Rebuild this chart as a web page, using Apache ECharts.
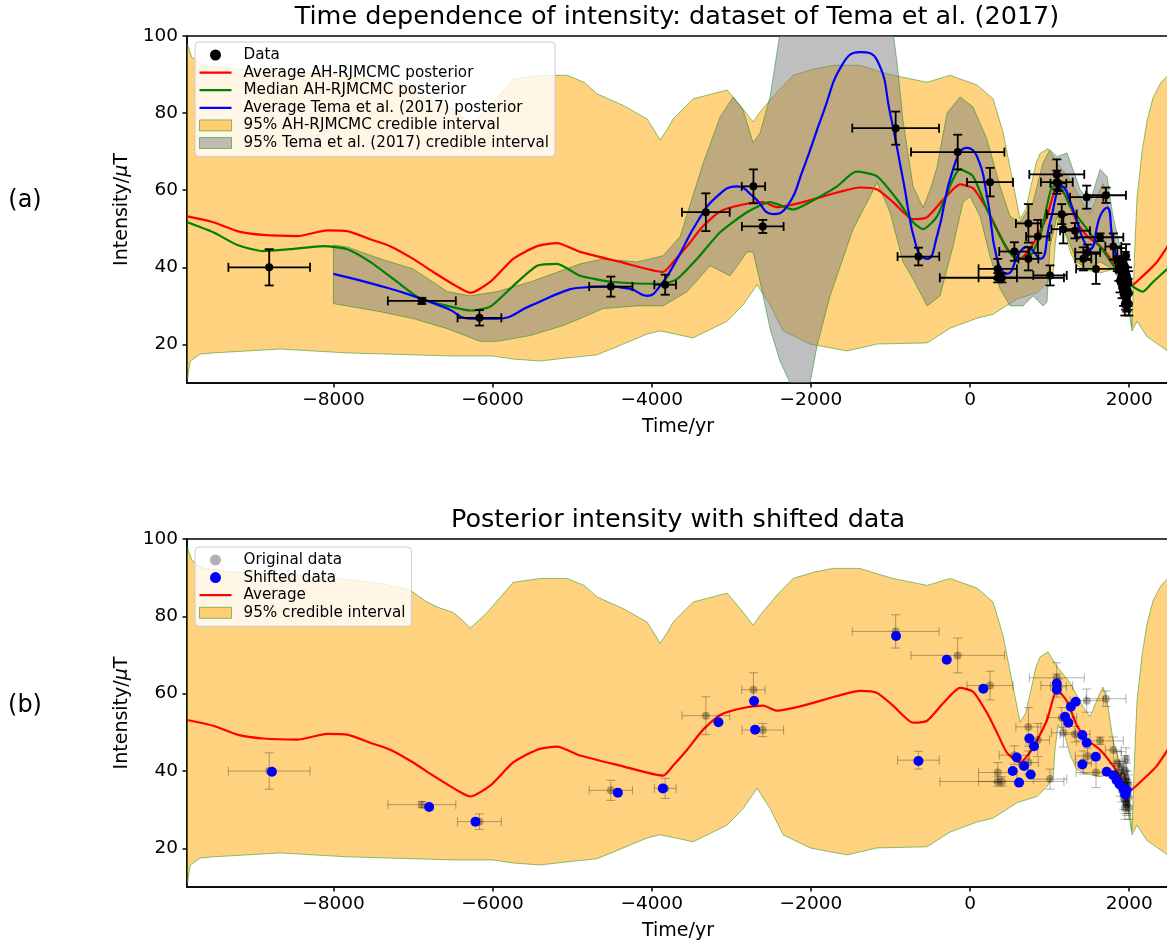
<!DOCTYPE html>
<html>
<head>
<meta charset="utf-8">
<title>Intensity posterior</title>
<script src="https://cdn.jsdelivr.net/npm/echarts@6/dist/echarts.min.js"></script>
<style>
  html, body { margin: 0; padding: 0; background: #fff; }
  #chart { width: 1167px; height: 940px; }
</style>
</head>
<body>
<div id="chart"></div>
<script>
// ---- data ----
const xTicks = [-8000, -6000, -4000, -2000, 0, 2000];
const yTicks = [20, 40, 60, 80, 100];

// 95% AH-RJMCMC credible interval (same in both panels)
const orangeUpYears = [-9838, -9780, -9650, -9300, -8800, -8000, -7400, -7035, -6850, -6696,
  -6495, -6380, -6281, -6170, -6068, -5900, -5741, -5402, -5063, -4850,
  -4686, -4359, -4058, -3982, -3894, -3800, -3731, -3480, -3053, -2889,
  -2726, -2638, -2425, -2224, -1950, -1721, -1382, -1168, -967, -540,
  -251, 88, 289, 415, 520, 628, 700, 754, 830, 879,
  980, 1093, 1256, 1420, 1508, 1633, 1671, 1721, 1796, 1884,
  1972, 2035, 2070, 2098, 2161, 2224, 2299, 2400, 2500];
const orangeUpVals = [98, 94.5, 92.5, 91.5, 91, 90, 88.5, 86.8, 84, 82.4,
  81, 79, 77, 79, 81, 85, 88.8, 89.8, 89.8, 88,
  85, 82, 78.5, 76, 73, 76, 78.5, 83.7, 86, 82,
  77.7, 80.3, 85.5, 89.8, 91.5, 92.4, 92.4, 91, 89.8, 88,
  89.8, 87.3, 83.7, 75, 64, 52.6, 55, 60, 67, 69.5,
  70.8, 67, 62.8, 56.6, 54, 60.2, 61.7, 58.4, 48, 42,
  37.7, 24.5, 45, 58, 70, 78, 84, 88, 90];
const orangeLoYears = [-9838, -9820, -9799, -9673, -9510, -8668, -7827, -6500, -6000, -5741,
  -5402, -5063, -4690, -4485, -4058, -3894, -3480, -3053, -2851, -2676,
  -2513, -2349, -2010, -1545, -1168, -540, -251, 88, 289, 590,
  716, 842, 967, 1043, 1068, 1106, 1180, 1260, 1340, 1420,
  1633, 1796, 1847, 1972, 2035, 2098, 2224, 2400, 2500];
const orangeLoVals = [10.3, 13, 15.7, 17.5, 17.8, 18.8, 17.8, 17, 17, 16.2,
  15.7, 16.5, 17.3, 19, 22.7, 23.5, 21.7, 26, 30.3, 35.5,
  30.3, 23.5, 20.1, 18.3, 20.1, 20.4, 24.2, 26.8, 27.8, 31.8,
  32.6, 33.4, 36, 38.5, 45.5, 52, 50, 44, 40.5, 39.5,
  38.5, 39.5, 37.7, 32, 23.5, 26, 22, 19.5, 18];

// 95% Tema et al. (2017) credible interval
const temaUpYears = [-8000, -7827, -7411, -6998, -6570, -6281, -5942, -5528, -4900, -4611,
  -4185, -3857, -3643, -3354, -3141, -2977, -2852, -2726, -2638, -2513,
  -2387, -2200, -1800, -1400, -1100, -967, -917, -842, -716, -590,
  -503, -415, -289, -126, 38, 214, 377, 503, 628, 791,
  917, 1005, 1093, 1219, 1382, 1508, 1633, 1721, 1796, 1884,
  1972];
const temaUpVals = [45.8, 45.3, 42.2, 39.6, 33.7, 32.6, 33.7, 36.2, 40.9, 42.2,
  41.4, 43, 48, 67, 79, 84.2, 80.8, 72.3, 74.9, 84.2,
  101, 112, 122, 125, 112, 101, 93, 78, 61, 55.5,
  60, 66, 80, 84.2, 81.6, 73.1, 61, 53.2, 51.7, 56.9,
  67.2, 70.5, 68.7, 69.7, 60.2, 56.9, 65.4, 63.6, 53.2, 45.5,
  39.6];
const temaLoYears = [-8000, -7411, -6998, -6570, -6155, -5942, -5528, -5113, -4900, -4611,
  -4185, -3857, -3555, -3266, -3015, -2802, -2726, -2638, -2513, -2387,
  -2261, -2135, -2010, -1922, -1759, -1470, -1256, -1168, -1005, -842,
  -716, -540, -377, -214, -88, 0, 126, 251, 377, 503,
  666, 791, 917, 967, 1005, 1093, 1219, 1344, 1470, 1633,
  1796, 1972];
const temaLoVals = [30.6, 28.5, 26.7, 24.1, 20.8, 20.8, 22.3, 24.9, 26.7, 29.3,
  30, 30, 33.7, 40.4, 37.8, 44, 44, 36.2, 24.1, 15.6,
  10, 5, 10, 19.7, 32.6, 49.9, 58.4, 62, 54.3, 41.4,
  37, 30, 32.6, 45.5, 56.9, 58.4, 53.2, 42.9, 34.4, 30,
  30, 32.6, 30, 31, 45.5, 53.2, 48.1, 41.4, 39.6, 41.4,
  39.6, 38.8];

// Average AH-RJMCMC posterior
const avgYears = [-9838, -9510, -9208, -8882, -8455, -8078, -7827, -7538, -7286, -6998,
  -6746, -6445, -6281, -6030, -5741, -5440, -5189, -4900, -4397, -3857,
  -3731, -3555, -3354, -3141, -2852, -2601, -2425, -2098, -1671, -1382,
  -1168, -967, -716, -540, -339, -126, 38, 214, 339, 465,
  628, 791, 967, 1093, 1219, 1344, 1470, 1633, 1796, 2010,
  2173, 2349, 2500];
const avgVals = [53.2, 51.7, 49.4, 48.4, 48.1, 49.6, 49.4, 47.3, 45.5, 42.2,
  38.8, 35, 33.4, 36.2, 42.2, 45.5, 46.3, 44, 41.4, 38.8,
  41.4, 45.5, 50.7, 54.5, 56.3, 56.9, 55.6, 56.9, 59.4, 60.7,
  60.2, 56.9, 52.5, 53, 57.5, 61.5, 60.5, 55, 49.9, 44.7,
  42.2, 46, 53.2, 61, 58, 51.7, 48.1, 45.5, 41.4, 35,
  37.8, 41.4, 46];

// Median AH-RJMCMC posterior
const medYears = [-9838, -9510, -9208, -8882, -8543, -8128, -7827, -7538, -7198, -6909,
  -6570, -6281, -6030, -5741, -5440, -5189, -4900, -4485, -3857, -3680,
  -3430, -3141, -2802, -2513, -2224, -1884, -1671, -1432, -1168, -917,
  -716, -590, -415, -126, 38, 214, 377, 540, 716, 880,
  1043, 1131, 1256, 1470, 1721, 1922, 2173, 2299, 2500];
const medVals = [51.7, 49.1, 45.8, 44.2, 44.7, 45.5, 44.7, 41.4, 36.2, 31.9,
  30, 28.8, 29.8, 35.2, 40.4, 40.9, 37.8, 36.2, 35.7, 37,
  42.2, 49.1, 54.3, 56.9, 55, 58.4, 61, 64.8, 63.6, 57.6,
  51.7, 49.9, 53.2, 65.4, 63.6, 55, 48.1, 42.9, 42.2, 48.1,
  61, 61, 55.8, 49.9, 42.9, 37, 33.7, 36.2, 40];

// Average Tema et al. (2017) posterior
const temaYears = [-8000, -7411, -6998, -6570, -6281, -5942, -5528, -5113, -4900, -4611,
  -4271, -4058, -3894, -3680, -3430, -3179, -2927, -2726, -2475, -2299,
  -2098, -1847, -1596, -1382, -1168, -1005, -842, -666, -540, -415,
  -214, -38, 88, 214, 339, 465, 628, 716, 880, 1005,
  1156, 1294, 1420, 1508, 1633, 1721, 1796, 1884, 1947];
const temaVals = [38.3, 35.2, 32.6, 29.3, 26.7, 26.7, 30, 33.7, 34.7, 35,
  34.4, 32.6, 35.2, 42.2, 51.7, 58.4, 61, 58.4, 53.8, 55.8,
  65.4, 80, 92.9, 95.8, 93.7, 80, 62.8, 44.7, 42.2, 48.1,
  65.4, 71, 68.7, 58.4, 42.2, 38.3, 44, 45.3, 42.2, 51.7,
  61, 55, 47.3, 44.7, 53.2, 55.5, 46.5, 39.6, 37.8];

// Tema et al. (2017) dataset: age, intensity, age error, intensity error
const dataYears = [-8807, -6889, -6165, -4514, -3831, -3320, -2722, -2605, -935, -155,
  -649, 251, 348, 348, 400, 1005, 733, 851, 557, 733,
  1090, 1090, 1110, 1152, 1172, 1319, 1466, 1708, 1633, 1478,
  1423, 1583, 1800, 1850, 1870, 1885, 1900, 1910, 1920, 1930,
  1940, 1945, 1950, 1955, 1960, 1960, 1965, 1970, 1975, 1980,
  1985, 1990, 1995];
const dataVals = [40, 31.3, 26.9, 35, 35.5, 54.3, 61, 50.6, 76.1, 69.9,
  42.8, 62.1, 39.6, 37.3, 37.3, 37.9, 51.4, 48, 44.1, 42.2,
  64.1, 62.1, 61.8, 53.8, 49.9, 49.5, 58.2, 58.7, 47.8, 43.9,
  42.2, 39.6, 45.4, 42, 39.5, 36.5, 41, 35, 38.5, 33,
  36.5, 30.5, 40, 32, 35, 43, 38, 31.5, 34, 37,
  33, 36, 30.5];
const dataXErr = [513, 427, 275, 272, 136, 300, 147, 262, 545, 587,
  262, 289, 241, 241, 780, 210, 157, 147, 190, 125,
  345, 200, 100, 188, 150, 188, 209, 251, 293, 157,
  100, 250, 100, 30, 30, 25, 30, 20, 25, 20,
  20, 20, 25, 20, 20, 20, 20, 20, 15, 15,
  15, 10, 10];
const dataYErr = [4.7, 0.8, 2, 2.6, 2.6, 4.9, 4.4, 1.7, 4.3, 4.5,
  2.3, 3.7, 2.6, 1.2, 1.2, 2.6, 5, 4.3, 2.4, 3,
  3.9, 3, 2, 2.6, 3.7, 2, 3, 2, 1, 2,
  3, 3.9, 3.4, 3, 3, 3, 4, 3, 4, 3,
  3, 3, 4, 3, 3, 3, 4, 3, 3, 3,
  4, 3, 3];

// shifted data (panel b)
const shiftYears = [-8773, -6797, -6215, -4426, -3861, -3162, -2714, -2701, -930, -293,
  -649, 167, 587, 745, 804, 536, 616, 678, 762, 1090,
  1090, 1194, 1236, 1266, 1328, 1411, 1466, 1579, 1411, 1717,
  1800, 1842, 1880, 1926, 1950, 1968];
const shiftVals = [39.8, 30.7, 26.9, 34.4, 35.5, 52.6, 58.1, 50.7, 74.9, 68.8,
  42.6, 61.3, 43.5, 48.4, 46.4, 40, 37, 41.3, 39.1, 62.6,
  61.1, 54, 52.5, 56.6, 57.9, 49.3, 47.3, 43.7, 41.7, 39.8,
  38.9, 37.6, 36.5, 35.5, 34, 35];

// ---- styling ----
const FONT = 'DejaVu Sans';
const ORANGE = 'rgba(255,165,0,0.5)';
const GREY = 'rgba(128,128,128,0.5)';
const EDGE = 'rgba(0,128,0,0.45)';
const LINE_ICON = 'path://M0,0H100V7H0Z';
const CAP = 4.5;
const XMIN = -9840, XMAX = 2500;

function zip(xs, ys) {
  return xs.map(function (x, i) { return [x, ys[i]]; });
}

function minusFmt(v) {
  return v < 0 ? '\u2212' + (-v) : String(v);
}

// filled band between an upper and a lower curve, drawn as one polygon
function bandSeries(name, idx, upX, upY, loX, loY, fill, z) {
  const pts = zip(upX, upY).concat(zip(loX, loY).reverse());
  return {
    name: name,
    type: 'custom',
    xAxisIndex: idx,
    yAxisIndex: idx,
    silent: true,
    z: z,
    encode: { x: 0, y: 1 },
    data: pts,
    itemStyle: { color: fill },
    renderItem: function (params, api) {
      if (params.dataIndex !== 0) return null;
      const cs = params.coordSys;
      return {
        type: 'polygon',
        shape: { points: pts.map(function (p) { return api.coord(p); }) },
        style: { fill: fill, stroke: EDGE, lineWidth: 1 },
        clipPath: { type: 'rect', shape: { x: cs.x, y: cs.y, width: cs.width, height: cs.height } }
      };
    }
  };
}

// x and y error bars with caps
function errorSeries(name, idx, color, width, z) {
  return {
    name: name,
    type: 'custom',
    xAxisIndex: idx,
    yAxisIndex: idx,
    silent: true,
    z: z,
    encode: { x: 0, y: 1 },
    data: dataYears.map(function (x, i) { return [x, dataVals[i], dataXErr[i], dataYErr[i]]; }),
    renderItem: function (params, api) {
      const x = api.value(0), y = api.value(1), ex = api.value(2), ey = api.value(3);
      const l = api.coord([x - ex, y]), r = api.coord([x + ex, y]);
      const t = api.coord([x, y + ey]), b = api.coord([x, y - ey]);
      const style = { stroke: color, lineWidth: width };
      function seg(x1, y1, x2, y2) {
        return { type: 'line', shape: { x1: x1, y1: y1, x2: x2, y2: y2 }, style: style };
      }
      return {
        type: 'group',
        children: [
          seg(l[0], l[1], r[0], r[1]),
          seg(t[0], t[1], b[0], b[1]),
          seg(l[0], l[1] - CAP, l[0], l[1] + CAP),
          seg(r[0], r[1] - CAP, r[0], r[1] + CAP),
          seg(t[0] - CAP, t[1], t[0] + CAP, t[1]),
          seg(b[0] - CAP, b[1], b[0] + CAP, b[1])
        ]
      };
    }
  };
}

function lineSeries(name, idx, xs, ys, color, smooth, z) {
  return {
    name: name,
    type: 'line',
    xAxisIndex: idx,
    yAxisIndex: idx,
    data: zip(xs, ys),
    symbol: 'none',
    showSymbol: false,
    smooth: smooth,
    silent: true,
    z: z,
    itemStyle: { color: color },
    lineStyle: { color: color, width: 2.2 }
  };
}

function scatterSeries(name, idx, xs, ys, color, size, z) {
  return {
    name: name,
    type: 'scatter',
    xAxisIndex: idx,
    yAxisIndex: idx,
    z: z,
    silent: true,
    data: zip(xs, ys),
    symbol: 'circle',
    symbolSize: size,
    itemStyle: { color: color, opacity: 1 }
  };
}

function xAxisOpt(idx) {
  return {
    type: 'value',
    gridIndex: idx,
    min: XMIN,
    max: XMAX,
    name: 'Time/yr',
    nameLocation: 'middle',
    nameGap: 35,
    nameTextStyle: { fontFamily: FONT, fontSize: 19, color: '#000' },
    axisLine: { show: true, onZero: false, lineStyle: { color: '#000', width: 1.5 } },
    axisTick: { show: true, inside: false, length: 4.5, customValues: xTicks, lineStyle: { color: '#000', width: 1.5 } },
    axisLabel: { customValues: xTicks, formatter: minusFmt, fontFamily: FONT, fontSize: 18.5, color: '#000', margin: 8 },
    splitLine: { show: false }
  };
}

function yAxisOpt(idx) {
  return {
    type: 'value',
    gridIndex: idx,
    min: 10,
    max: 100,
    name: 'Intensity/{mu|\u03bc}T',
    nameLocation: 'middle',
    nameGap: 52,
    nameTextStyle: {
      fontFamily: FONT, fontSize: 19, color: '#000',
      rich: { mu: { fontFamily: FONT, fontSize: 19, fontStyle: 'italic', color: '#000' } }
    },
    axisLine: { show: true, onZero: false, lineStyle: { color: '#000', width: 1.5 } },
    axisTick: { show: true, inside: false, length: 4.5, customValues: yTicks, lineStyle: { color: '#000', width: 1.5 } },
    axisLabel: { customValues: yTicks, fontFamily: FONT, fontSize: 18.5, color: '#000', margin: 9 },
    splitLine: { show: false }
  };
}

function legendOpt(top, items) {
  return {
    left: 195,
    top: top,
    orient: 'vertical',
    selectedMode: false,
    itemWidth: 32,
    itemHeight: 11,
    itemGap: 2.6,
    symbolKeepAspect: true,
    backgroundColor: 'rgba(255,255,255,0.8)',
    borderColor: '#cccccc',
    borderWidth: 1,
    borderRadius: 4,
    padding: [5.5, 6, 6, 4],
    textStyle: { fontFamily: FONT, fontSize: 15.2, lineHeight: 15, color: '#000', padding: [0, 0, 0, 7] },
    data: items
  };
}

const myChart = echarts.init(document.getElementById('chart'), null, { renderer: 'canvas' });

const option = {
  animation: false,
  backgroundColor: '#fff',
  grid: [
    { left: 187, top: 36, width: 982, height: 347, show: true, borderColor: '#000', borderWidth: 1.5, backgroundColor: 'transparent', outerBoundsMode: 'none' },
    { left: 187, top: 539, width: 982, height: 348, show: true, borderColor: '#000', borderWidth: 1.5, backgroundColor: 'transparent', outerBoundsMode: 'none' }
  ],
  xAxis: [xAxisOpt(0), xAxisOpt(1)],
  yAxis: [yAxisOpt(0), yAxisOpt(1)],
  legend: [
    legendOpt(42, [
      { name: 'Data', icon: 'circle' },
      { name: 'Average AH-RJMCMC posterior', icon: LINE_ICON },
      { name: 'Median AH-RJMCMC posterior', icon: LINE_ICON },
      { name: 'Average Tema et al. (2017) posterior', icon: LINE_ICON },
      { name: '95% AH-RJMCMC credible interval', icon: 'rect', itemStyle: { color: ORANGE, borderColor: EDGE, borderWidth: 1 } },
      { name: '95% Tema et al. (2017) credible interval', icon: 'rect', itemStyle: { color: GREY, borderColor: EDGE, borderWidth: 1 } }
    ]),
    legendOpt(547, [
      { name: 'Original data', icon: 'circle' },
      { name: 'Shifted data', icon: 'circle' },
      { name: 'Average', icon: LINE_ICON },
      { name: '95% credible interval', icon: 'rect', itemStyle: { color: ORANGE, borderColor: EDGE, borderWidth: 1 } }
    ])
  ],
  graphic: [
    { type: 'text', x: 677, y: 4, style: { text: 'Time dependence of intensity: dataset of Tema et al. (2017)', font: '25.5px "DejaVu Sans"', fill: '#000', align: 'center', verticalAlign: 'top' } },
    { type: 'text', x: 678, y: 507, style: { text: 'Posterior intensity with shifted data', font: '25.5px "DejaVu Sans"', fill: '#000', align: 'center', verticalAlign: 'top' } },
    { type: 'text', x: 25, y: 201, style: { text: '(a)', font: '24px "DejaVu Sans"', fill: '#000', align: 'center', verticalAlign: 'middle' } },
    { type: 'text', x: 25, y: 706, style: { text: '(b)', font: '24px "DejaVu Sans"', fill: '#000', align: 'center', verticalAlign: 'middle' } }
  ],
  series: [
    // panel (a)
    bandSeries('95% AH-RJMCMC credible interval', 0, orangeUpYears, orangeUpVals, orangeLoYears, orangeLoVals, ORANGE, 1),
    bandSeries('95% Tema et al. (2017) credible interval', 0, temaUpYears, temaUpVals, temaLoYears, temaLoVals, GREY, 2),
    lineSeries('Average AH-RJMCMC posterior', 0, avgYears, avgVals, '#ff0000', 0.2, 3),
    lineSeries('Median AH-RJMCMC posterior', 0, medYears, medVals, '#008000', 0.2, 4),
    lineSeries('Average Tema et al. (2017) posterior', 0, temaYears, temaVals, '#0000ff', 0.5, 5),
    errorSeries('Data error', 0, '#000', 1.8, 6),
    scatterSeries('Data', 0, dataYears, dataVals, '#000', 8, 7),
    // panel (b)
    bandSeries('95% credible interval', 1, orangeUpYears, orangeUpVals, orangeLoYears, orangeLoVals, ORANGE, 1),
    lineSeries('Average', 1, avgYears, avgVals, '#ff0000', 0.2, 3),
    errorSeries('Original data error', 1, 'rgba(0,0,0,0.3)', 1, 4),
    scatterSeries('Original data', 1, dataYears, dataVals, 'rgba(0,0,0,0.3)', 8, 5),
    scatterSeries('Shifted data', 1, shiftYears, shiftVals, '#0000ff', 10, 6)
  ]
};

myChart.setOption(option);
</script>
</body>
</html>
